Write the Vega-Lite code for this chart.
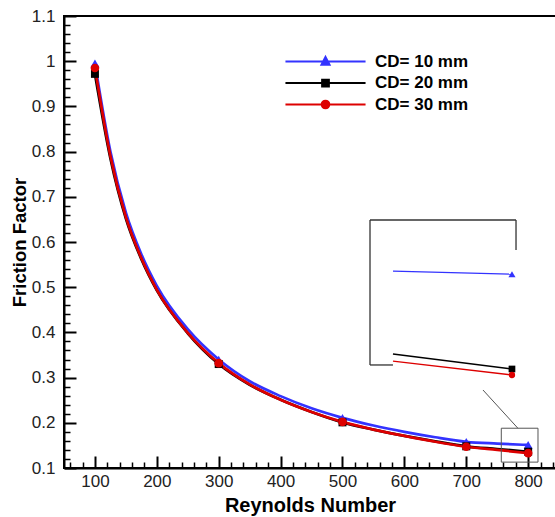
{
  "$schema": "https://vega.github.io/schema/vega-lite/v6.json",
  "autosize": {"type": "none"},
  "padding": {"left": 64, "top": 16, "right": 0, "bottom": 49},
  "width": 492,
  "height": 452,
  "config": {
    "view": {"stroke": "black", "strokeWidth": 2},
    "font": "Liberation Sans"
  },
  "datasets": {
    "curves": [
      {"series": "CD= 10 mm", "Re": 100, "f": 0.995},
      {"series": "CD= 10 mm", "Re": 125, "f": 0.8},
      {"series": "CD= 10 mm", "Re": 150, "f": 0.665},
      {"series": "CD= 10 mm", "Re": 175, "f": 0.573},
      {"series": "CD= 10 mm", "Re": 200, "f": 0.503},
      {"series": "CD= 10 mm", "Re": 250, "f": 0.407},
      {"series": "CD= 10 mm", "Re": 300, "f": 0.34},
      {"series": "CD= 10 mm", "Re": 350, "f": 0.292},
      {"series": "CD= 10 mm", "Re": 400, "f": 0.259},
      {"series": "CD= 10 mm", "Re": 450, "f": 0.232},
      {"series": "CD= 10 mm", "Re": 500, "f": 0.211},
      {"series": "CD= 10 mm", "Re": 550, "f": 0.194},
      {"series": "CD= 10 mm", "Re": 600, "f": 0.18},
      {"series": "CD= 10 mm", "Re": 650, "f": 0.168},
      {"series": "CD= 10 mm", "Re": 700, "f": 0.158},
      {"series": "CD= 10 mm", "Re": 750, "f": 0.154},
      {"series": "CD= 10 mm", "Re": 800, "f": 0.151},
      {"series": "CD= 20 mm", "Re": 100, "f": 0.972},
      {"series": "CD= 20 mm", "Re": 125, "f": 0.785},
      {"series": "CD= 20 mm", "Re": 150, "f": 0.652},
      {"series": "CD= 20 mm", "Re": 175, "f": 0.562},
      {"series": "CD= 20 mm", "Re": 200, "f": 0.493},
      {"series": "CD= 20 mm", "Re": 250, "f": 0.398},
      {"series": "CD= 20 mm", "Re": 300, "f": 0.33},
      {"series": "CD= 20 mm", "Re": 350, "f": 0.284},
      {"series": "CD= 20 mm", "Re": 400, "f": 0.251},
      {"series": "CD= 20 mm", "Re": 450, "f": 0.224},
      {"series": "CD= 20 mm", "Re": 500, "f": 0.201},
      {"series": "CD= 20 mm", "Re": 550, "f": 0.185},
      {"series": "CD= 20 mm", "Re": 600, "f": 0.171},
      {"series": "CD= 20 mm", "Re": 650, "f": 0.159},
      {"series": "CD= 20 mm", "Re": 700, "f": 0.148},
      {"series": "CD= 20 mm", "Re": 750, "f": 0.142},
      {"series": "CD= 20 mm", "Re": 800, "f": 0.136},
      {"series": "CD= 30 mm", "Re": 100, "f": 0.985},
      {"series": "CD= 30 mm", "Re": 125, "f": 0.79},
      {"series": "CD= 30 mm", "Re": 150, "f": 0.655},
      {"series": "CD= 30 mm", "Re": 175, "f": 0.564},
      {"series": "CD= 30 mm", "Re": 200, "f": 0.494},
      {"series": "CD= 30 mm", "Re": 250, "f": 0.399},
      {"series": "CD= 30 mm", "Re": 300, "f": 0.332},
      {"series": "CD= 30 mm", "Re": 350, "f": 0.285},
      {"series": "CD= 30 mm", "Re": 400, "f": 0.251},
      {"series": "CD= 30 mm", "Re": 450, "f": 0.224},
      {"series": "CD= 30 mm", "Re": 500, "f": 0.202},
      {"series": "CD= 30 mm", "Re": 550, "f": 0.185},
      {"series": "CD= 30 mm", "Re": 600, "f": 0.171},
      {"series": "CD= 30 mm", "Re": 650, "f": 0.158},
      {"series": "CD= 30 mm", "Re": 700, "f": 0.147},
      {"series": "CD= 30 mm", "Re": 750, "f": 0.14},
      {"series": "CD= 30 mm", "Re": 800, "f": 0.133}
    ],
    "markers": [
      {"series": "CD= 10 mm", "Re": 100, "f": 0.995},
      {"series": "CD= 10 mm", "Re": 300, "f": 0.34},
      {"series": "CD= 10 mm", "Re": 500, "f": 0.211},
      {"series": "CD= 10 mm", "Re": 700, "f": 0.158},
      {"series": "CD= 10 mm", "Re": 800, "f": 0.151},
      {"series": "CD= 20 mm", "Re": 100, "f": 0.972},
      {"series": "CD= 20 mm", "Re": 300, "f": 0.33},
      {"series": "CD= 20 mm", "Re": 500, "f": 0.201},
      {"series": "CD= 20 mm", "Re": 700, "f": 0.148},
      {"series": "CD= 20 mm", "Re": 800, "f": 0.136},
      {"series": "CD= 30 mm", "Re": 100, "f": 0.985},
      {"series": "CD= 30 mm", "Re": 300, "f": 0.332},
      {"series": "CD= 30 mm", "Re": 500, "f": 0.202},
      {"series": "CD= 30 mm", "Re": 700, "f": 0.147},
      {"series": "CD= 30 mm", "Re": 800, "f": 0.133}
    ],
    "zoomBox": [
      {"x1": 756.6, "x2": 815.9, "y1": 0.113, "y2": 0.188}
    ],
    "connector": [
      {"x1": 727, "x2": 783.4, "y1": 0.2726, "y2": 0.188}
    ],
    "inset": [
      {"series": "CD= 10 mm", "Re": 780, "f": 0.1523},
      {"series": "CD= 10 mm", "Re": 800, "f": 0.1518},
      {"series": "CD= 20 mm", "Re": 780, "f": 0.1385},
      {"series": "CD= 20 mm", "Re": 800, "f": 0.136},
      {"series": "CD= 30 mm", "Re": 780, "f": 0.1373},
      {"series": "CD= 30 mm", "Re": 800, "f": 0.135}
    ],
    "insetFrame": [
      {"x1": 776.14, "x2": 776.14, "y1": 0.13667, "y2": 0.16083},
      {"x1": 776.14, "x2": 800.68, "y1": 0.16083, "y2": 0.16083},
      {"x1": 800.68, "x2": 800.68, "y1": 0.16083, "y2": 0.15583},
      {"x1": 776.14, "x2": 780.0, "y1": 0.13667, "y2": 0.13667}
    ]
  },
  "layer": [
    {
      "layer": [
        {
          "data": {"name": "curves"},
          "mark": {"type": "line", "interpolate": "monotone", "strokeWidth": 2.7},
          "encoding": {
            "x": {
              "field": "Re", "type": "quantitative",
              "scale": {"domain": [50, 845], "nice": false, "zero": false},
              "axis": {
                "orient": "bottom",
                "values": [100, 200, 300, 400, 500, 600, 700, 800],
                "tickSize": -12,
                "title": "Reynolds Number",
                "titleFont": "Liberation Sans", "titleFontSize": 20, "titleFontWeight": "bold", "titleColor": "black",
                "labelFont": "Liberation Sans", "labelFontSize": 17, "labelColor": "#222",
                "domainColor": "black", "domainWidth": 2,
                "tickColor": "black", "tickWidth": 2,
                "grid": false, "labelPadding": 17, "titlePadding": 6,
                "labelOverlap": false, "labelFlush": false
              }
            },
            "y": {
              "field": "f", "type": "quantitative",
              "scale": {"domain": [0.1, 1.1], "nice": false, "zero": false},
              "axis": {
                "orient": "left",
                "values": [0.1, 0.2, 0.3, 0.4, 0.5, 0.6, 0.7, 0.8, 0.9, 1.0, 1.1],
                "format": ".1~f",
                "tickSize": -12,
                "title": "Friction Factor",
                "titleFont": "Liberation Sans", "titleFontSize": 18.5, "titleFontWeight": "bold", "titleColor": "black",
                "labelFont": "Liberation Sans", "labelFontSize": 17, "labelColor": "#222",
                "domainColor": "black", "domainWidth": 2,
                "tickColor": "black", "tickWidth": 2,
                "grid": false, "labelPadding": 21, "titlePadding": 2,
                "labelOverlap": false, "labelFlush": false
              }
            },
            "color": {
              "field": "series", "type": "nominal",
              "scale": {"domain": ["CD= 10 mm", "CD= 20 mm", "CD= 30 mm"], "range": ["#3333ff", "#000000", "#dd0000"]},
              "legend": {
                "orient": "none", "legendX": 253, "legendY": 37, "title": null,
                "labelFont": "Liberation Sans", "labelFontSize": 17, "labelFontWeight": "bold", "labelColor": "black",
                "symbolSize": 81, "labelOffset": 41, "rowPadding": 3.5, "padding": 0,
                "symbolStrokeWidth": 2,
                "encode": {
                  "symbols": {
                    "update": {
                      "shape": {"signal": "datum.value === 'CD= 10 mm' ? 'M-8.9,0H8.9M0,-1L0.9,0.7H-0.9Z' : datum.value === 'CD= 20 mm' ? 'M-8.9,0H8.9M-0.75,-0.75H0.75V0.75H-0.75Z' : 'M-8.9,0H8.9M-0.85,0A0.85,0.85 0 1,0 0.85,0A0.85,0.85 0 1,0 -0.85,0Z'"},
                      "fill": {"signal": "datum.value === 'CD= 10 mm' ? '#3333ff' : datum.value === 'CD= 20 mm' ? '#000000' : '#dd0000'"},
                      "stroke": {"signal": "datum.value === 'CD= 10 mm' ? '#3333ff' : datum.value === 'CD= 20 mm' ? '#000000' : '#dd0000'"},
                      "strokeWidth": {"value": 2},
                      "opacity": {"value": 1}
                    }
                  }
                }
              }
            }
          }
        },
        {
          "data": {"name": "markers"},
          "transform": [{"filter": "datum.series === 'CD= 10 mm'"}],
          "mark": {"type": "point", "shape": "triangle-up", "filled": true, "opacity": 1, "size": 80},
          "encoding": {
            "x": {"field": "Re", "type": "quantitative", "axis": null},
            "y": {"field": "f", "type": "quantitative", "axis": null},
            "color": {"field": "series", "type": "nominal", "legend": null}
          }
        },
        {
          "data": {"name": "markers"},
          "transform": [{"filter": "datum.series === 'CD= 20 mm'"}],
          "mark": {"type": "point", "shape": "square", "filled": true, "opacity": 1, "size": 64},
          "encoding": {
            "x": {"field": "Re", "type": "quantitative", "axis": null},
            "y": {"field": "f", "type": "quantitative", "axis": null},
            "color": {"field": "series", "type": "nominal", "legend": null}
          }
        },
        {
          "data": {"name": "markers"},
          "transform": [{"filter": "datum.series === 'CD= 30 mm'"}],
          "mark": {"type": "point", "shape": "circle", "filled": true, "opacity": 1, "size": 75},
          "encoding": {
            "x": {"field": "Re", "type": "quantitative", "axis": null},
            "y": {"field": "f", "type": "quantitative", "axis": null},
            "color": {"field": "series", "type": "nominal", "legend": null}
          }
        },
        {
          "data": {"name": "zoomBox"},
          "mark": {"type": "rect", "fillOpacity": 0, "stroke": "#555555", "strokeWidth": 1},
          "encoding": {
            "x": {
              "field": "x1", "type": "quantitative",
              "axis": {
                "orient": "bottom", "title": null, "labels": false, "domain": false, "grid": false,
                "values": [60,80,120,140,160,180,220,240,260,280,320,340,360,380,420,440,460,480,520,540,560,580,620,640,660,680,720,740,760,780,820,840],
                "tickSize": -6, "tickColor": "black", "tickWidth": 1.5
              }
            },
            "x2": {"field": "x2"},
            "y": {
              "field": "y1", "type": "quantitative",
              "axis": {
                "orient": "left", "title": null, "labels": false, "domain": false, "grid": false,
                "values": [0.12,0.14,0.16,0.18,0.22,0.24,0.26,0.28,0.32,0.34,0.36,0.38,0.42,0.44,0.46,0.48,0.52,0.54,0.56,0.58,0.62,0.64,0.66,0.68,0.72,0.74,0.76,0.78,0.82,0.84,0.86,0.88,0.92,0.94,0.96,0.98,1.02,1.04,1.06,1.08],
                "tickSize": -6, "tickColor": "black", "tickWidth": 1.5
              }
            },
            "y2": {"field": "y2"}
          }
        },
        {
          "data": {"name": "connector"},
          "mark": {"type": "rule", "color": "#555555", "strokeWidth": 1},
          "encoding": {
            "x": {"field": "x1", "type": "quantitative", "axis": null},
            "x2": {"field": "x2"},
            "y": {"field": "y1", "type": "quantitative", "axis": null},
            "y2": {"field": "y2"}
          }
        }
      ],
      "resolve": {"axis": {"x": "independent", "y": "independent"}}
    },
    {
      "layer": [
        {
          "data": {"name": "inset"},
          "mark": {"type": "line", "strokeWidth": 1.3},
          "encoding": {
            "x": {"field": "Re", "type": "quantitative", "scale": {"domain": [724.71, 807.4], "nice": false, "zero": false}, "axis": null},
            "y": {"field": "f", "type": "quantitative", "scale": {"domain": [0.1195, 0.19483], "nice": false, "zero": false}, "axis": null},
            "color": {"field": "series", "type": "nominal", "legend": null}
          }
        },
        {
          "data": {"name": "inset"},
          "transform": [{"filter": "datum.Re === 800 && datum.series === 'CD= 10 mm'"}],
          "mark": {"type": "point", "shape": "triangle-up", "filled": true, "opacity": 1, "size": 50},
          "encoding": {
            "x": {"field": "Re", "type": "quantitative", "axis": null},
            "y": {"field": "f", "type": "quantitative", "axis": null},
            "color": {"field": "series", "type": "nominal", "legend": null}
          }
        },
        {
          "data": {"name": "inset"},
          "transform": [{"filter": "datum.Re === 800 && datum.series === 'CD= 20 mm'"}],
          "mark": {"type": "point", "shape": "square", "filled": true, "opacity": 1, "size": 45},
          "encoding": {
            "x": {"field": "Re", "type": "quantitative", "axis": null},
            "y": {"field": "f", "type": "quantitative", "axis": null},
            "color": {"field": "series", "type": "nominal", "legend": null}
          }
        },
        {
          "data": {"name": "inset"},
          "transform": [{"filter": "datum.Re === 800 && datum.series === 'CD= 30 mm'"}],
          "mark": {"type": "point", "shape": "circle", "filled": true, "opacity": 1, "size": 40},
          "encoding": {
            "x": {"field": "Re", "type": "quantitative", "axis": null},
            "y": {"field": "f", "type": "quantitative", "axis": null},
            "color": {"field": "series", "type": "nominal", "legend": null}
          }
        },
        {
          "data": {"name": "insetFrame"},
          "mark": {"type": "rule", "color": "#333333", "strokeWidth": 1.3},
          "encoding": {
            "x": {"field": "x1", "type": "quantitative", "axis": null},
            "x2": {"field": "x2"},
            "y": {"field": "y1", "type": "quantitative", "axis": null},
            "y2": {"field": "y2"}
          }
        }
      ]
    }
  ],
  "resolve": {"scale": {"x": "independent", "y": "independent"}}
}
